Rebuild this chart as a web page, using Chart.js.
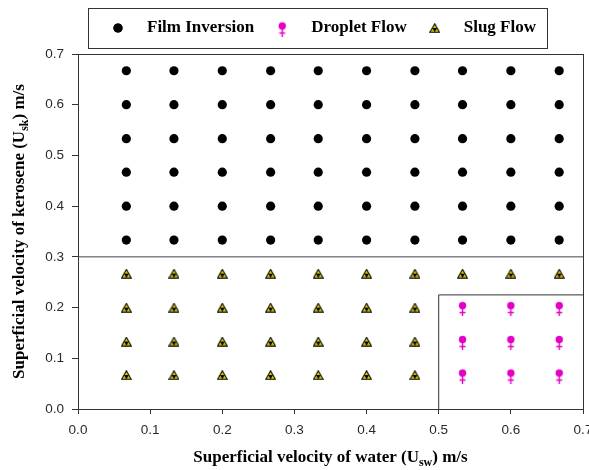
<!DOCTYPE html>
<html>
<head>
<meta charset="utf-8">
<script src="https://cdn.jsdelivr.net/npm/chart.js@4/dist/chart.umd.min.js"></script>
<style>
  html, body { margin: 0; padding: 0; background: #fff; }
  #wrap { width: 589px; height: 470px; }
</style>
</head>
<body>
<div id="wrap"><canvas id="flowMap" width="589" height="470"></canvas></div>
<script>
// superficial water velocity columns (m/s)
const waterVel = [0.067, 0.133, 0.2, 0.267, 0.333, 0.4, 0.467, 0.533, 0.6, 0.667];
// kerosene velocity rows (m/s)
const keroFilm = [0.333, 0.4, 0.467, 0.533, 0.6, 0.667];
const keroLow = [0.067, 0.133, 0.2, 0.267];
// droplet flow region
const waterDroplet = [0.533, 0.6, 0.667];
const keroDroplet = [0.067, 0.133, 0.2];
// regime boundaries
const boundaryX = [0, 0.7];
const boundaryY = [0.3, 0.3];
const dropletBoxX = [0.5, 0.5, 0.7];
const dropletBoxY = [0, 0.225, 0.225];
const axisTicks = [0, 0.1, 0.2, 0.3, 0.4, 0.5, 0.6, 0.7];
const seriesNames = ['Film Inversion', 'Droplet Flow', 'Slug Flow'];

const magenta = '#e400c4';

const filmPts = [];
waterVel.forEach(x => keroFilm.forEach(y => filmPts.push({ x, y })));
const dropletPts = [];
waterDroplet.forEach(x => keroDroplet.forEach(y => dropletPts.push({ x, y })));
const slugPts = [];
waterVel.forEach(x => keroLow.forEach(y => {
  if (!(waterDroplet.includes(x) && keroDroplet.includes(y))) slugPts.push({ x, y });
}));
const toPts = (xs, ys) => xs.map((x, i) => ({ x, y: ys[i] }));

// venus-like marker used for droplet flow
function makeVenus() {
  const c = document.createElement('canvas');
  c.width = 11; c.height = 17;
  const g = c.getContext('2d');
  g.fillStyle = magenta;
  g.strokeStyle = magenta;
  g.beginPath();
  g.arc(5.5, 6.5, 3.7, 0, Math.PI * 2);
  g.fill();
  g.lineWidth = 1.4;
  g.beginPath();
  g.moveTo(5.5, 9); g.lineTo(5.5, 17);
  g.moveTo(2.5, 13.5); g.lineTo(8.5, 13.5);
  g.stroke();
  return c;
}

// yellow/black triangle marker for slug flow
function makeTriangle() {
  const c = document.createElement('canvas');
  c.width = 11; c.height = 10;
  const g = c.getContext('2d');
  g.beginPath();
  g.moveTo(5.5, 0.8); g.lineTo(10.3, 9.3); g.lineTo(0.7, 9.3); g.closePath();
  g.fillStyle = '#e6cf00';
  g.fill();
  g.lineWidth = 1.1;
  g.strokeStyle = '#000';
  g.stroke();
  g.beginPath();
  g.moveTo(3.1, 5.05); g.lineTo(7.9, 5.05); g.lineTo(5.5, 9.3); g.closePath();
  g.fillStyle = '#000';
  g.fill();
  return c;
}

const venusImg = makeVenus();
const triImg = makeTriangle();

function drawRich(ctx, parts, cx, cy) {
  const mainFont = 'bold 17px "Liberation Serif", "Times New Roman", serif';
  const subFont = 'bold 12px "Liberation Serif", "Times New Roman", serif';
  let total = 0;
  parts.forEach(p => {
    ctx.font = p.sub ? subFont : mainFont;
    p.w = ctx.measureText(p.t).width;
    total += p.w;
  });
  let x = cx - total / 2;
  ctx.textBaseline = 'middle';
  ctx.textAlign = 'left';
  parts.forEach(p => {
    ctx.font = p.sub ? subFont : mainFont;
    ctx.fillText(p.t, x, p.sub ? cy + 5 : cy);
    x += p.w;
  });
}

const framePlugin = {
  id: 'frameAndTitles',
  beforeDatasetsDraw(chart) {
    const { ctx, chartArea: a } = chart;
    ctx.save();
    ctx.strokeStyle = '#333';
    ctx.lineWidth = 1;
    ctx.strokeRect(Math.round(a.left) + 0.5, Math.round(a.top) + 0.5,
      Math.round(a.right - a.left), Math.round(a.bottom - a.top));
    ctx.restore();
  },
  afterDraw(chart) {
    const { ctx, chartArea: a } = chart;
    ctx.save();
    ctx.fillStyle = '#000';
    // x axis title
    drawRich(ctx, [
      { t: 'Superficial velocity of water (U' },
      { t: 'sw', sub: true },
      { t: ') m/s' }
    ], (a.left + a.right) / 2, 458);
    // y axis title
    ctx.translate(20, (a.top + a.bottom) / 2);
    ctx.rotate(-Math.PI / 2);
    drawRich(ctx, [
      { t: 'Superficial velocity of kerosene (U' },
      { t: 'sk', sub: true },
      { t: ') m/s' }
    ], 0, 0);
    ctx.restore();

    // boxed legend
    ctx.save();
    ctx.font = 'bold 17px "Liberation Serif", "Times New Roman", serif';
    ctx.textBaseline = 'middle';
    ctx.fillStyle = '#000';
    const cy = 28;
    let x = 118;
    chart.data.datasets.filter(d => seriesNames.includes(d.label)).forEach(d => {
      Chart.helpers.drawPoint(ctx, {
        pointStyle: d.pointStyle, radius: d.pointRadius, rotation: 0, borderWidth: 0
      }, x, cy);
      if (d.pointStyle === 'circle') {
        ctx.fillStyle = d.backgroundColor;
        ctx.beginPath(); ctx.arc(x, cy, d.pointRadius, 0, Math.PI * 2); ctx.fill();
      }
      ctx.fillStyle = '#000';
      const tx = x + 29;
      ctx.fillText(d.label, tx, cy);
      x = tx + ctx.measureText(d.label).width + 28;
    });
    ctx.strokeStyle = '#333';
    ctx.lineWidth = 1;
    ctx.strokeRect(88.5, 8.5, x - 28 + 11 - 88, 40);
    ctx.restore();
  }
};

const tickFont = { family: '"Liberation Sans", Arial, sans-serif', size: 13.5 };

new Chart(document.getElementById('flowMap'), {
  type: 'scatter',
  data: {
    datasets: [
      {
        label: 'Film Inversion', data: filmPts, pointStyle: 'circle',
        pointRadius: 4.6, backgroundColor: '#000', borderColor: '#000', borderWidth: 0, order: 1
      },
      {
        label: 'Droplet Flow', data: dropletPts, pointStyle: venusImg,
        pointRadius: 5, order: 1
      },
      {
        label: 'Slug Flow', data: slugPts, pointStyle: triImg,
        pointRadius: 5, order: 1
      },
      {
        label: 'boundary', data: toPts(boundaryX, boundaryY), showLine: true,
        pointRadius: 0, borderColor: '#444', borderWidth: 1, order: 5
      },
      {
        label: 'dropletBox', data: toPts(dropletBoxX, dropletBoxY), showLine: true,
        pointRadius: 0, borderColor: '#333', borderWidth: 1, order: 5
      }
    ]
  },
  options: {
    responsive: false,
    animation: false,
    events: [],
    layout: { padding: { top: 54, right: 5, left: 0, bottom: 0 } },
    plugins: { legend: { display: false }, tooltip: { enabled: false } },
    scales: {
      x: {
        type: 'linear', min: 0, max: 0.7,
        afterBuildTicks: s => { s.ticks = axisTicks.map(v => ({ value: v })); },
        ticks: { font: tickFont, color: '#2a2a2a', padding: 8, maxRotation: 0,
          callback: v => v.toFixed(1) },
        grid: { drawOnChartArea: false, tickLength: 5, color: '#333' },
        border: { color: '#333', width: 1 },
        afterFit: s => { s.height = 61; s.paddingLeft = 0; s.paddingRight = 0; }
      },
      y: {
        type: 'linear', min: 0, max: 0.7,
        afterBuildTicks: s => { s.ticks = axisTicks.map(v => ({ value: v })); },
        ticks: { font: tickFont, color: '#2a2a2a', padding: 8,
          callback: v => v.toFixed(1) },
        grid: { drawOnChartArea: false, tickLength: 6, color: '#333' },
        border: { color: '#333', width: 1 },
        afterFit: s => { s.width = 78; s.paddingTop = 0; s.paddingBottom = 0; }
      }
    }
  },
  plugins: [framePlugin]
});
</script>
</body>
</html>
